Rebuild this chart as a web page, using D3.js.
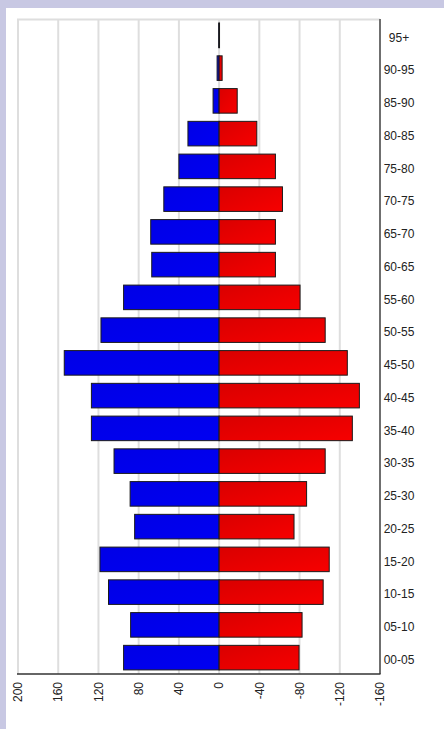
<!DOCTYPE html>
<html lang="en">
  <head>
    <meta charset="utf-8">
    <title>Population Pyramid</title>
    <script type="text/javascript" src="https://d3js.org/d3.v7.min.js"></script>
    <style>
      body { margin: 0; }
      text { font-family: "Liberation Sans", Arial, sans-serif; font-size: 12px; fill: #222; }
    </style>
  </head>
  <body>
    <svg class="pyramid"></svg>
  </body>

  <script>
    //Data, bottom group first
    const ageGroups = ["00-05", "05-10", "10-15", "15-20", "20-25", "25-30", "30-35", "35-40", "40-45", "45-50",
                       "50-55", "55-60", "60-65", "65-70", "70-75", "75-80", "80-85", "85-90", "90-95", "95+"];
    const blueValues = [95, 88, 110, 118.5, 84, 88.5, 104.5, 127, 127, 154, 117.5, 95, 67, 68, 55, 40, 31, 6, 2, 0.4];
    const redValues = [-79.5, -82.5, -103.5, -109.5, -74.5, -87, -105.5, -132.5, -139.5, -127.5, -105.5, -80.5, -56, -56, -63, -56, -37.5, -18, -3, -0.4];
    const tickValues = [200, 160, 120, 80, 40, 0, -40, -80, -120, -160];

    const width = 444, height = 729;
    const plot = {left: 18, right: 380, top: 19, bottom: 674};

    var svg = d3.select(".pyramid")
      .attr("width", width)
      .attr("height", height);

    //lavender frame, white page
    svg.append("rect").attr("width", width).attr("height", height).attr("fill", "#c8c8e3");
    svg.append("rect").attr("x", 6).attr("y", 8).attr("width", width - 6).attr("height", height - 8).attr("fill", "#fff");

    var defs = svg.append("defs");
    var redGrad = defs.append("linearGradient").attr("id", "redGrad")
      .attr("x1", 0).attr("y1", 0).attr("x2", 1).attr("y2", 1);
    redGrad.append("stop").attr("offset", "0%").attr("stop-color", "#d90000");
    redGrad.append("stop").attr("offset", "100%").attr("stop-color", "#f70000");
    var blueGrad = defs.append("linearGradient").attr("id", "blueGrad")
      .attr("x1", 0).attr("y1", 0).attr("x2", 1).attr("y2", 1);
    blueGrad.append("stop").attr("offset", "0%").attr("stop-color", "#0000e6");
    blueGrad.append("stop").attr("offset", "100%").attr("stop-color", "#0000f2");

    var x = d3.scaleLinear()
      .domain([200, -160])
      .range([plot.left, plot.right]);

    var y = d3.scaleBand()
      .domain(ageGroups.slice().reverse())
      .range([plot.top, plot.bottom])
      .paddingInner(0.25)
      .paddingOuter(0.125);

    //grid
    svg.append("g").selectAll("line")
      .data(tickValues)
      .join("line")
        .attr("x1", d=>x(d)).attr("x2", d=>x(d))
        .attr("y1", plot.top).attr("y2", plot.bottom)
        .attr("stroke", "#dedede")
        .attr("stroke-width", 2);
    svg.append("line")
      .attr("x1", plot.left - 1).attr("x2", plot.right)
      .attr("y1", plot.top + 0.5).attr("y2", plot.top + 0.5)
      .attr("stroke", "#dedede")
      .attr("stroke-width", 2);

    //bars
    var rows = ageGroups.map((g, i) => ({group: g, blue: blueValues[i], red: redValues[i]}));

    svg.append("g").selectAll("rect")
      .data(rows)
      .join("rect")
        .attr("x", d=>x(d.blue))
        .attr("y", d=>y(d.group))
        .attr("width", d=>x(0) - x(d.blue))
        .attr("height", y.bandwidth())
        .attr("fill", "url(#blueGrad)")
        .attr("stroke", "#1a1a1a")
        .attr("stroke-width", 1);

    svg.append("g").selectAll("rect")
      .data(rows)
      .join("rect")
        .attr("x", x(0))
        .attr("y", d=>y(d.group))
        .attr("width", d=>x(d.red) - x(0))
        .attr("height", y.bandwidth())
        .attr("fill", "url(#redGrad)")
        .attr("stroke", "#1a1a1a")
        .attr("stroke-width", 1);

    //axes lines
    svg.append("line")
      .attr("x1", plot.left - 1).attr("x2", plot.right + 0.5)
      .attr("y1", plot.bottom).attr("y2", plot.bottom)
      .attr("stroke", "#333").attr("stroke-width", 1.3);
    svg.append("line")
      .attr("x1", plot.right).attr("x2", plot.right)
      .attr("y1", plot.top).attr("y2", plot.bottom)
      .attr("stroke", "#333").attr("stroke-width", 1.3);

    //bottom tick labels, rotated
    svg.append("g").selectAll("text")
      .data(tickValues)
      .join("text")
        .attr("transform", d=>"translate(" + x(d) + "," + (plot.bottom + 8) + ") rotate(-90)")
        .attr("text-anchor", "end")
        .attr("dy", "0.35em")
        .text(d=>d);

    //age labels on the right
    svg.append("g").selectAll("text")
      .data(ageGroups)
      .join("text")
        .attr("x", 399)
        .attr("y", d=>y(d) + y.bandwidth() / 2 + 2)
        .attr("text-anchor", "middle")
        .attr("dy", "0.35em")
        .text(d=>d);
  </script>
</html>
